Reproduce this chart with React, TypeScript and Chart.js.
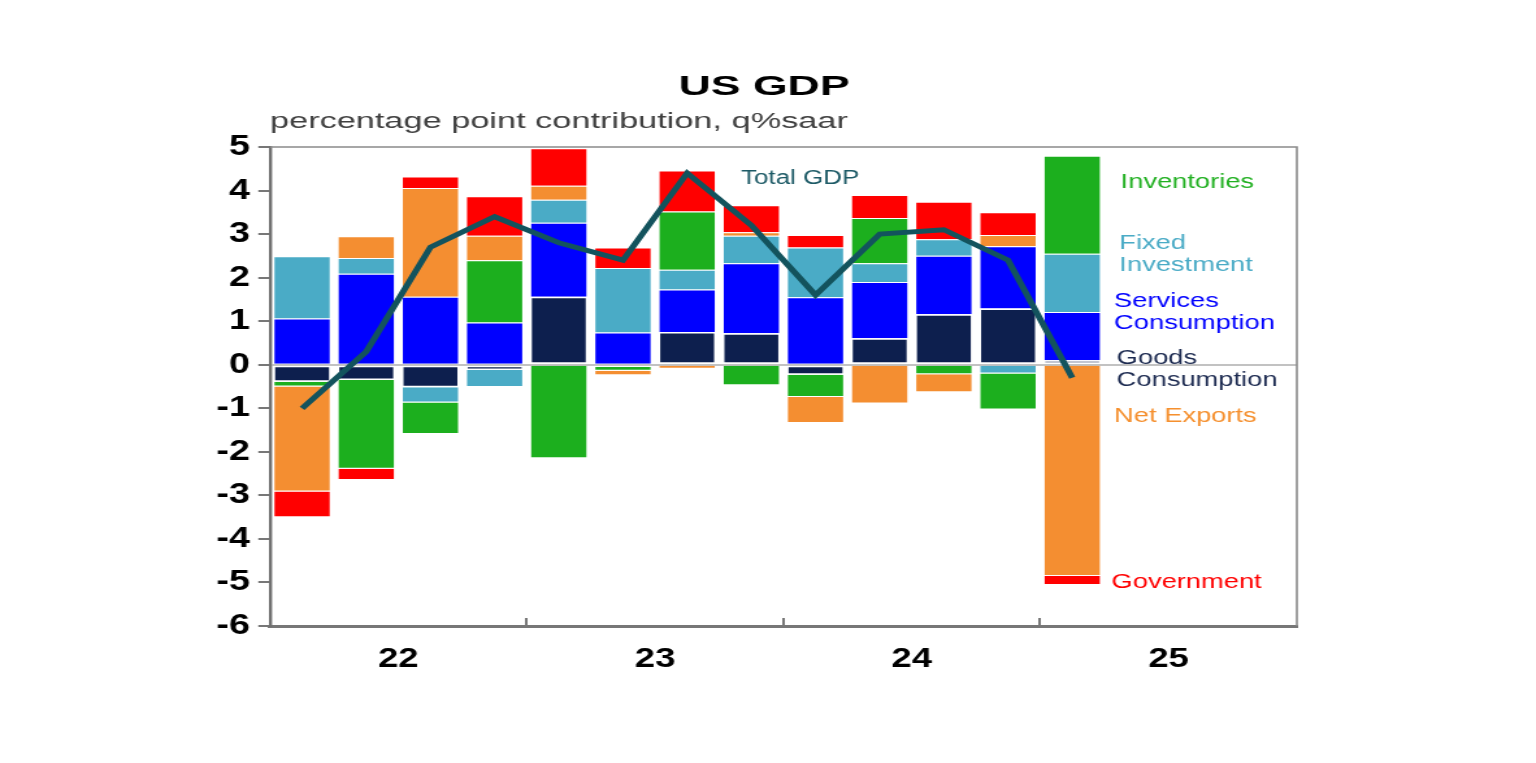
import { useEffect, useRef } from 'react';
import { Chart, registerables } from 'chart.js';

Chart.register(...registerables);

// quarters on the axis (2022 Q1 .. 2025 Q4), data runs to 2025 Q1
const quarters = [
  'Mar-22', 'Jun-22', 'Sep-22', 'Dec-22',
  'Mar-23', 'Jun-23', 'Sep-23', 'Dec-23',
  'Mar-24', 'Jun-24', 'Sep-24', 'Dec-24',
  'Mar-25', 'Jun-25', 'Sep-25', 'Dec-25',
];
const yearLabels = ['22', '23', '24', '25'];

// percentage point contributions, q%saar
const goods = [-0.39, -0.35, -0.52, -0.12, 1.56, -0.05, 0.75, 0.72, -0.23, 0.61, 1.16, 1.29, 0.1];
const services = [1.06, 2.09, 1.56, 0.97, 1.7, 0.74, 0.98, 1.61, 1.55, 1.29, 1.34, 1.43, 1.11];
const fixedInvestment = [1.43, 0.36, -0.35, -0.39, 0.53, 1.48, 0.45, 0.63, 1.14, 0.43, 0.38, -0.2, 1.34];
const inventories = [-0.11, -2.04, -0.72, 1.43, -2.15, -0.09, 1.34, -0.47, -0.51, 1.04, -0.22, -0.83, 2.25];
const netExports = [-2.41, 0.5, 2.5, 0.56, 0.32, -0.1, -0.09, 0.08, -0.6, -0.89, -0.41, 0.26, -4.85];
const government = [-0.59, -0.26, 0.26, 0.91, 0.86, 0.47, 0.94, 0.62, 0.29, 0.53, 0.86, 0.52, -0.21];
const totalGdp = [-1.0, 0.3, 2.7, 3.4, 2.8, 2.4, 4.4, 3.2, 1.6, 3.0, 3.1, 2.4, -0.3];

const FONT = '"Liberation Sans", Arial, sans-serif';
const W = 1182; // drawn narrower, then stretched to 1536 like the original picture
const H = 763;

// right-hand labels: text lines, colour, y position (in axis units), small x nudge
const sideLabels = [
  { lines: ['Inventories'], color: '#22b022', y: 4.2, dx: 15 },
  { lines: ['Fixed', 'Investment'], color: '#4aabc6', y: 2.78, dx: 14 },
  { lines: ['Services', 'Consumption'], color: '#0000ff', y: 1.46, dx: 10 },
  { lines: ['Goods', 'Consumption'], color: '#1c2a50', y: 0.15, dx: 12 },
  { lines: ['Net Exports'], color: '#f5902f', y: -1.19, dx: 10 },
  { lines: ['Government'], color: '#ff0000', y: -5.0, dx: 8 },
];

const drawText = (ctx, text, x, y, font, color, align, sx, baseline = 'alphabetic') => {
  ctx.save();
  ctx.translate(x, y);
  ctx.scale(sx, 1);
  ctx.font = font;
  ctx.fillStyle = color;
  ctx.textAlign = align;
  ctx.textBaseline = baseline;
  ctx.fillText(text, 0, 0);
  ctx.restore();
};

const textPlugin = {
  id: 'gdpText',
  afterDraw(chart) {
    const { ctx, chartArea, scales } = chart;
    const yScale = scales.y;
    const xScale = scales.x;

    // top and right frame
    ctx.save();
    ctx.strokeStyle = '#8a8a8a';
    ctx.lineWidth = 1.6;
    ctx.beginPath();
    ctx.moveTo(chartArea.left, chartArea.top);
    ctx.lineTo(chartArea.right, chartArea.top);
    ctx.lineTo(chartArea.right, chartArea.bottom);
    ctx.stroke();
    ctx.restore();

    // title + subtitle
    drawText(ctx, 'US GDP', 588, 95, `bold 28px ${FONT}`, '#000', 'center', 1.225);
    drawText(ctx, 'percentage point contribution, q%saar', chartArea.left, 128, `22px ${FONT}`, '#404040', 'left', 1.2);

    // Total GDP label
    drawText(ctx, 'Total GDP', xScale.getPixelForValue(7) - 8, yScale.getPixelForValue(4.28), `20px ${FONT}`, '#1d5a66', 'left', 1, 'middle');

    // side labels next to the last bar (dataset 1 = first bar series)
    const last = chart.getDatasetMeta(1).data[totalGdp.length - 1];
    const right = last.x + last.width / 2;
    sideLabels.forEach((lab) => {
      const y0 = yScale.getPixelForValue(lab.y);
      lab.lines.forEach((line, i) => {
        drawText(ctx, line, right + lab.dx, y0 + i * 22, `21px ${FONT}`, lab.color, 'left', 1, 'middle');
      });
    });
  },
};

const barSet = (label, data, color, extra = {}) => ({
  type: 'bar',
  label,
  data,
  backgroundColor: color,
  borderColor: 'rgba(255,255,255,0.35)',
  borderWidth: 1,
  barPercentage: 0.9,
  categoryPercentage: 1,
  order: 1,
  ...extra,
});

const App = () => {
  const canvasRef = useRef<HTMLCanvasElement | null>(null);
  const chartRef = useRef<Chart | null>(null);

  useEffect(() => {
    const ctx = canvasRef.current?.getContext('2d');
    if (!ctx) return;

    chartRef.current = new Chart(ctx, {
      type: 'bar',
      data: {
        labels: quarters,
        datasets: [
          {
            type: 'line',
            label: 'Total GDP',
            data: totalGdp,
            borderColor: '#13535d',
            borderWidth: 5,
            pointRadius: 0,
            fill: false,
            tension: 0,
            stack: 'total',
            order: 0,
          },
          barSet('Goods Consumption', goods, '#0d1f4e', {
            borderColor: 'rgba(255,255,255,0.9)',
            borderWidth: 1.5,
            borderSkipped: false,
          }),
          barSet('Services Consumption', services, '#0000ff'),
          barSet('Fixed Investment', fixedInvestment, '#4aabc6'),
          barSet('Inventories', inventories, '#1caf1e'),
          barSet('Net Exports', netExports, '#f48e31'),
          barSet('Government', government, '#ff0000'),
        ],
      },
      options: {
        responsive: false,
        animation: false,
        events: [],
        layout: { padding: { left: 0, right: W - 998, top: 147, bottom: 0 } },
        plugins: {
          legend: { display: false },
          tooltip: { enabled: false },
        },
        scales: {
          x: {
            type: 'category',
            display: false,
            stacked: true,
            offset: true,
            grid: { display: false },
          },
          xYear: {
            type: 'linear',
            position: 'bottom',
            min: 0,
            max: 16,
            offset: false,
            afterBuildTicks: (scale) => {
              scale.ticks = [2, 4, 6, 8, 10, 12, 14].map((v) => ({ value: v }));
            },
            afterFit: (scale) => {
              scale.height = H - 626;
            },
            ticks: {
              autoSkip: false,
              maxRotation: 0,
              padding: 24.5,
              color: '#000',
              font: { family: FONT, size: 28, weight: 'bold' },
              callback: (v) => (v % 4 === 2 ? yearLabels[(v - 2) / 4] : ''),
            },
            grid: {
              offset: false,
              drawOnChartArea: false,
              drawTicks: true,
              tickLength: -8,
              lineWidth: 2,
              color: (c) => (c.tick && c.tick.value % 4 === 0 ? '#777' : 'rgba(0,0,0,0)'),
            },
            border: { display: true, color: '#777', width: 3 },
          },
          y: {
            stacked: true,
            min: -6,
            max: 5,
            afterFit: (scale) => {
              scale.width = 207.8;
            },
            ticks: {
              stepSize: 1,
              padding: 6.5,
              color: '#000',
              font: { family: FONT, size: 29, weight: 'bold' },
            },
            grid: {
              drawTicks: true,
              tickLength: 9,
              tickWidth: 2,
              tickColor: '#777',
              lineWidth: 2,
              color: (c) => (c.tick && c.tick.value === 0 ? '#c2c2c2' : 'rgba(0,0,0,0)'),
            },
            border: { display: true, color: '#707070', width: 2.4 },
          },
        },
      },
      plugins: [textPlugin],
    });

    return () => chartRef.current?.destroy();
  }, []);

  return (
    <canvas
      ref={canvasRef}
      width={W}
      height={H}
      style={{ position: 'absolute', left: 0, top: 0, width: '1536px', height: '763px', background: '#fff' }}
    />
  );
};

export default App;
